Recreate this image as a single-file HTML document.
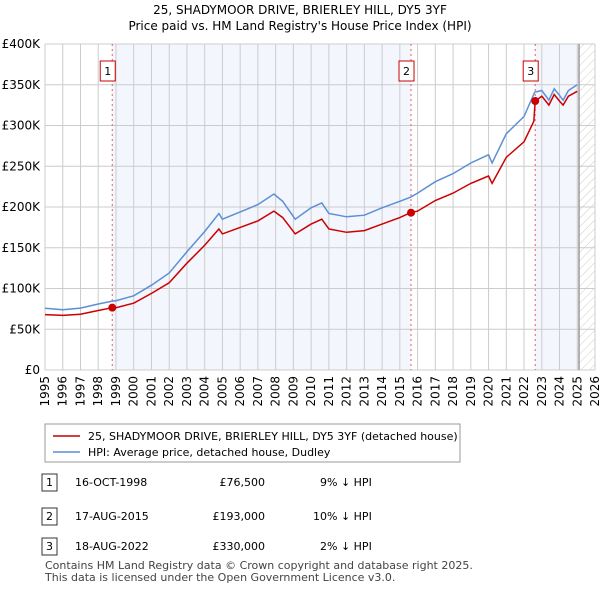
<!DOCTYPE html>
<html><head><meta charset="utf-8"><style>
body{margin:0;background:#fff;font-family:"Liberation Sans","DejaVu Sans",sans-serif;}
svg text{font-family:"DejaVu Sans","Liberation Sans",sans-serif;}
</style></head><body>
<svg id="c" width="600" height="590" viewBox="0 0 600 590" xmlns="http://www.w3.org/2000/svg">
<defs><pattern id="hatch" width="6" height="6" patternUnits="userSpaceOnUse" patternTransform="rotate(45)"><line x1="0" y1="0" x2="0" y2="6" stroke="#ccc" stroke-width="1"/></pattern></defs>
<text x="300" y="14" text-anchor="middle" font-size="12">25, SHADYMOOR DRIVE, BRIERLEY HILL, DY5 3YF</text>
<text x="300" y="30" text-anchor="middle" font-size="12">Price paid vs. HM Land Registry's House Price Index (HPI)</text>
<g id="plot"></g>
<g>
<rect x="45" y="424" width="415" height="38" fill="#fff" stroke="#999"/>
<line x1="53" y1="436" x2="80" y2="436" stroke="#cc0000" stroke-width="1.5"/>
<text x="88" y="440" font-size="11">25, SHADYMOOR DRIVE, BRIERLEY HILL, DY5 3YF (detached house)</text>
<line x1="53" y1="452" x2="80" y2="452" stroke="#5b8fd6" stroke-width="1.5"/>
<text x="88" y="456" font-size="11">HPI: Average price, detached house, Dudley</text>
</g>
<g font-size="11">
<rect x="42" y="474" width="15" height="17" fill="#fff" stroke="#333"/><text x="49.5" y="486" text-anchor="middle">1</text>
<text x="75" y="486">16-OCT-1998</text><text x="265" y="486" text-anchor="end">£76,500</text><text x="320" y="486">9% ↓ HPI</text>
<rect x="42" y="508" width="15" height="17" fill="#fff" stroke="#333"/><text x="49.5" y="520" text-anchor="middle">2</text>
<text x="75" y="520">17-AUG-2015</text><text x="265" y="520" text-anchor="end">£193,000</text><text x="313" y="520">10% ↓ HPI</text>
<rect x="42" y="538" width="15" height="17" fill="#fff" stroke="#333"/><text x="49.5" y="550" text-anchor="middle">3</text>
<text x="75" y="550">18-AUG-2022</text><text x="265" y="550" text-anchor="end">£330,000</text><text x="320" y="550">2% ↓ HPI</text>
</g>
<text x="45" y="569" font-size="11" fill="#444">Contains HM Land Registry data © Crown copyright and database right 2025.</text>
<text x="45" y="581" font-size="11" fill="#444">This data is licensed under the Open Government Licence v3.0.</text>
</svg>
<script>
const hpiYears=[1995,1996,1997,1998,1998.8,1999,2000,2001,2002,2003,2004,2004.8,2005,2006,2007,2007.9,2008.4,2009.1,2010,2010.6,2011,2012,2013,2014,2015,2015.6,2016,2017,2018,2019,2020,2020.2,2021,2022,2022.6,2023,2023.4,2023.7,2024,2024.2,2024.5,2025];
const hpiValues=[75.7,74,76,81,84.5,85,91,104,119,145,170,192,185,194,203,216,207,185,199,205,192,188,190,199,207,212,217,231,241,254,264,254,290,311,341,343,331,345,337,331,343,350];
const redYears=[1995,1996,1997,1998,1998.8,1999,2000,2001,2002,2003,2004,2004.8,2005,2006,2007,2007.9,2008.4,2009.1,2010,2010.6,2011,2012,2013,2014,2015,2015.6,2016,2017,2018,2019,2020,2020.2,2021,2022,2022.55,2022.63,2023,2023.4,2023.7,2024,2024.2,2024.5,2025];
const redValues=[68,67,68.5,73,76.5,76.5,82,94,107,131,153,173,167,175,183,195,187,167,179,185,173,169,171,179,187,193,195,208,217,229,238,229,261,280,305,330,336,325,338,330,325,336,342];
const saleYears=[1998.79,2015.63,2022.63];
const saleValues=[76.5,193,330];
const saleLabels=["1","2","3"];
const yTicks=[0,50,100,150,200,250,300,350,400];
const yTickLabels=["£0","£50K","£100K","£150K","£200K","£250K","£300K","£350K","£400K"];
const xTicks=[1995,1996,1997,1998,1999,2000,2001,2002,2003,2004,2005,2006,2007,2008,2009,2010,2011,2012,2013,2014,2015,2016,2017,2018,2019,2020,2021,2022,2023,2024,2025,2026];
const X0=45,X1=595,Y0=370,Y1=44;
const xs=y=>X0+(y-1995)/(2026-1995)*(X1-X0);
const ys=v=>Y0-v/400*(Y0-Y1);
const NS="http://www.w3.org/2000/svg";
const g=document.getElementById('plot');
function mk(t,a,p){const e=document.createElementNS(NS,t);for(const k in a)e.setAttribute(k,a[k]);(p||g).appendChild(e);return e;}
let e;
e=mk('rect',{x:xs(saleYears[0]),y:Y1,width:xs(saleYears[1])-xs(saleYears[0]),height:Y0-Y1,fill:'#f3f6fd'});


e=mk('rect',{x:xs(saleYears[2]),y:Y1,width:xs(2025.1)-xs(saleYears[2]),height:Y0-Y1,fill:'#f3f6fd'});


e=mk('rect',{x:xs(2025.1),y:Y1,width:X1-xs(2025.1),height:Y0-Y1,fill:'url(#hatch)'});


yTicks.forEach((v,i)=>{
 e=mk('line',{x1:X0,x2:X1,y1:ys(v),y2:ys(v),stroke:'#ccc'});
 
 
 e=mk('text',{x:X0-5,y:ys(v)+4,'text-anchor':'end','font-size':12});
 e.textContent=yTickLabels[i];
 
 
});
xTicks.forEach(y=>{
 e=mk('line',{x1:xs(y),x2:xs(y),y1:Y1,y2:Y0,stroke:'#ccc'});
 
 
 e=mk('text',{x:0,y:0,'text-anchor':'end','font-size':12,transform:`translate(${xs(y)+4},${Y0+6}) rotate(-90)`});
 e.textContent=y;
 
 
});
e=mk('line',{x1:xs(2025.1),x2:xs(2025.1),y1:Y1,y2:Y0,stroke:'#999','stroke-width':1.5});


saleYears.forEach((y,i)=>{
 e=mk('line',{x1:xs(y),x2:xs(y),y1:Y1,y2:Y0,stroke:'#e06060','stroke-dasharray':'2,3'});
 
 
});
e=mk('path',{d:hpiYears.map((y,i)=>(i?'L':'M')+xs(y).toFixed(1)+','+ys(hpiValues[i]).toFixed(1)).join(''),fill:'none',stroke:'#5b8fd6','stroke-width':1.5});


e=mk('path',{d:redYears.map((y,i)=>(i?'L':'M')+xs(y).toFixed(1)+','+ys(redValues[i]).toFixed(1)).join(''),fill:'none',stroke:'#cc0000','stroke-width':1.5});


saleYears.forEach((y,i)=>{
 e=mk('circle',{cx:xs(y),cy:ys(saleValues[i]),r:4,fill:'#cc0000'});
 
 
 e=mk('rect',{x:xs(y)-12,y:61,width:15,height:20,fill:'#fff',stroke:'#cc0000'});
 
 
 e=mk('text',{x:xs(y)-4.5,y:75,'text-anchor':'middle','font-size':11});
 e.textContent=saleLabels[i];
 
 
});
</script>
</body></html>
